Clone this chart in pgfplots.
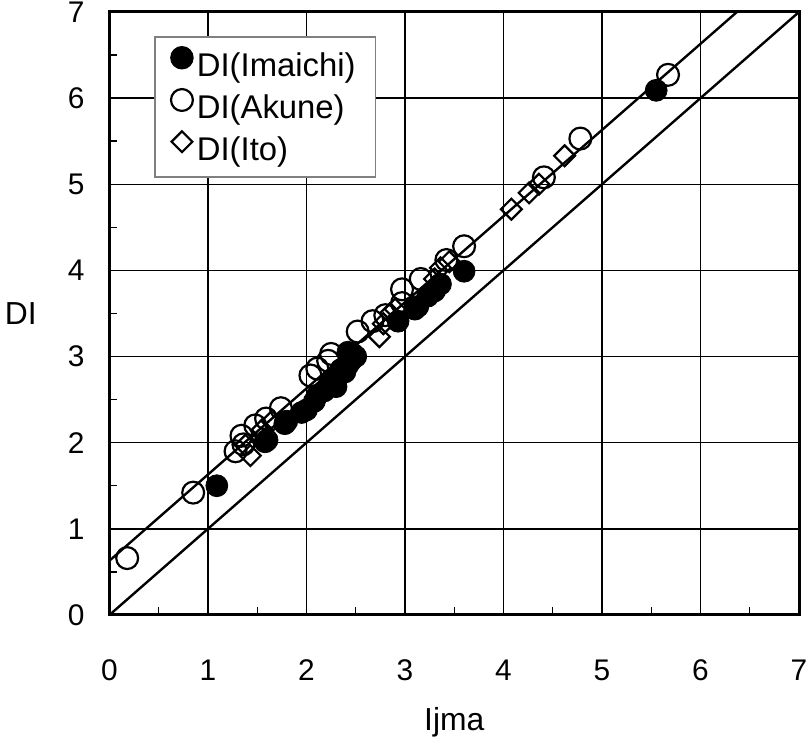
\documentclass[border=0pt]{standalone}
\usepackage{fontspec}
\setmainfont{Liberation Sans}
\usepackage{pgfplots}
\pgfplotsset{compat=1.18}
\begin{document}
\begin{tikzpicture}
\begin{axis}[
  width=346.5pt, height=303pt, scale only axis,
  xmin=0, xmax=7, ymin=0, ymax=7,
  xtick={0,...,7}, ytick={0,...,7},
  minor tick num=1,
  grid=major, major grid style={black, line width=0.7pt},
  tick align=inside, xtick pos=lower, ytick pos=left,
  major tick length=0pt, minor tick length=4pt,
  minor tick style={black, line width=0.7pt},
  axis line style={line width=1.5pt},
  /pgf/number format/assume math mode=true,
  tick label style={font=\fontsize{15}{17}\selectfont, text height=10.5pt, text depth=0pt},
  xticklabel style={yshift=-19pt},
  yticklabel style={xshift=-9pt},
  xlabel={Ijma}, ylabel={DI},
  every axis x label/.style={at={(rel axis cs:0.5,0)}, anchor=north, yshift=-43pt,
    font=\fontsize{16}{19}\selectfont},
  every axis y label/.style={at={(rel axis cs:0,0.5)}, anchor=east, xshift=-33pt,
    font=\fontsize{16}{19}\selectfont},
  legend style={at={(rel axis cs:0.065,0.96)}, anchor=north west, draw=gray,
    line width=0.8pt, font=\fontsize{16.5}{19}\selectfont,
    inner xsep=8pt, inner ysep=5pt, row sep=3pt},
  legend image post style={yshift=4pt},
  legend cell align=left,
  clip=false,
]
% reference lines
\addplot[black, line width=1.2pt, forget plot] coordinates {(0,0) (7,7)};
\addplot[black, line width=1.2pt, forget plot] coordinates {(0,0.63) (6.37,7)};

% DI(Imaichi)
\addplot[only marks, mark=*, mark size=5.5pt, mark options={fill=black, draw=black}]
coordinates {
(1.09,1.50) (1.58,2.01) (1.60,2.03) (1.78,2.22) (1.80,2.25) (1.95,2.35)
(2.00,2.38) (2.08,2.48) (2.11,2.55) (2.18,2.60) (2.22,2.65) (2.25,2.70)
(2.30,2.65) (2.32,2.78) (2.35,2.85) (2.39,2.82) (2.42,2.90) (2.45,2.95)
(2.47,3.03) (2.50,3.00) (2.42,3.05) (2.93,3.41) (3.10,3.55) (3.13,3.58)
(3.23,3.70) (3.30,3.76) (3.36,3.84) (3.60,3.99) (5.55,6.09)
};
\addlegendentry{DI(Imaichi)}

% DI(Akune)
\addplot[only marks, mark=o, mark size=5.5pt, mark options={draw=black, line width=1.1pt}]
coordinates {
(0.18,0.66) (0.85,1.42) (1.28,1.90) (1.34,2.08) (1.36,1.98) (1.48,2.20)
(1.59,2.28) (1.74,2.40) (2.04,2.78) (2.11,2.86) (2.22,2.95) (2.25,3.03)
(2.52,3.29) (2.67,3.41) (2.80,3.48) (2.97,3.62) (2.97,3.78) (3.16,3.90)
(3.42,4.12) (3.60,4.28) (4.41,5.08) (4.78,5.53) (5.67,6.27)
};
\addlegendentry{DI(Akune)}

% DI(Ito)
\addplot[only marks, mark=square, mark size=3.7pt, mark options={rotate=45, draw=black, line width=1.1pt}]
coordinates {
(1.38,1.97) (1.43,1.85) (1.55,2.15) (1.65,2.25) (2.74,3.23) (2.78,3.38)
(2.85,3.50) (2.90,3.55) (3.30,3.90) (3.36,4.03) (3.45,4.10) (4.08,4.71)
(4.26,4.90) (4.36,5.00) (4.62,5.33)
};
\addlegendentry{DI(Ito)}
\end{axis}
\pgfresetboundingbox
\path (current axis.south west) ++(-55pt,-64pt);
\path (current axis.north east) ++(4pt,6pt);
\end{tikzpicture}
\end{document}
